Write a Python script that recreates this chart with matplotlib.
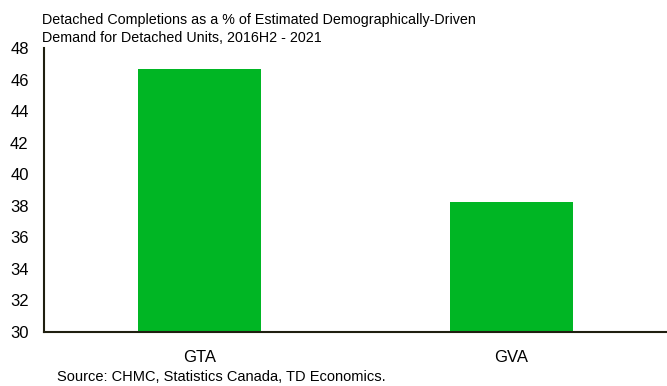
import matplotlib.pyplot as plt

plt.rcParams['font.family'] = ['Liberation Sans', 'DejaVu Sans']

regions = ["GTA", "GVA"]
share = [46.65, 38.22]
yticks = [30, 32, 34, 36, 38, 40, 42, 44, 46, 48]

fig = plt.figure(figsize=(6.67, 3.86), dpi=100)
ax = fig.add_axes([44 / 667, 1 - 332 / 386, 623 / 667, 284 / 386])

ax.bar(range(len(regions)), share, width=0.396, color="#00b624")
ax.set_ylim(30, 48)
ax.set_xlim(-0.5, 1.5)
ax.set_yticks(yticks)
ax.set_xticks(range(len(regions)))
ax.set_xticklabels(regions)
ax.tick_params(axis="both", length=0, labelsize=12, colors="black")
ax.tick_params(axis="x", pad=13)
ax.tick_params(axis="y", pad=11)
for s in ["top", "right"]:
    ax.spines[s].set_visible(False)
for s in ["left", "bottom"]:
    ax.spines[s].set_color("#1f1f10")
    ax.spines[s].set_linewidth(1.5)

fig.text(42 / 667, 1 - 24 / 386, "Detached Completions as a % of Estimated Demographically-Driven",
         ha="left", va="baseline", fontsize=10.3)
fig.text(42 / 667, 1 - 42 / 386, "Demand for Detached Units, 2016H2 - 2021",
         ha="left", va="baseline", fontsize=10.3)
fig.text(57 / 667, 1 - 381 / 386, "Source: CHMC, Statistics Canada, TD Economics.",
         ha="left", va="baseline", fontsize=10.5)

fig.savefig("out.png", dpi=100)
